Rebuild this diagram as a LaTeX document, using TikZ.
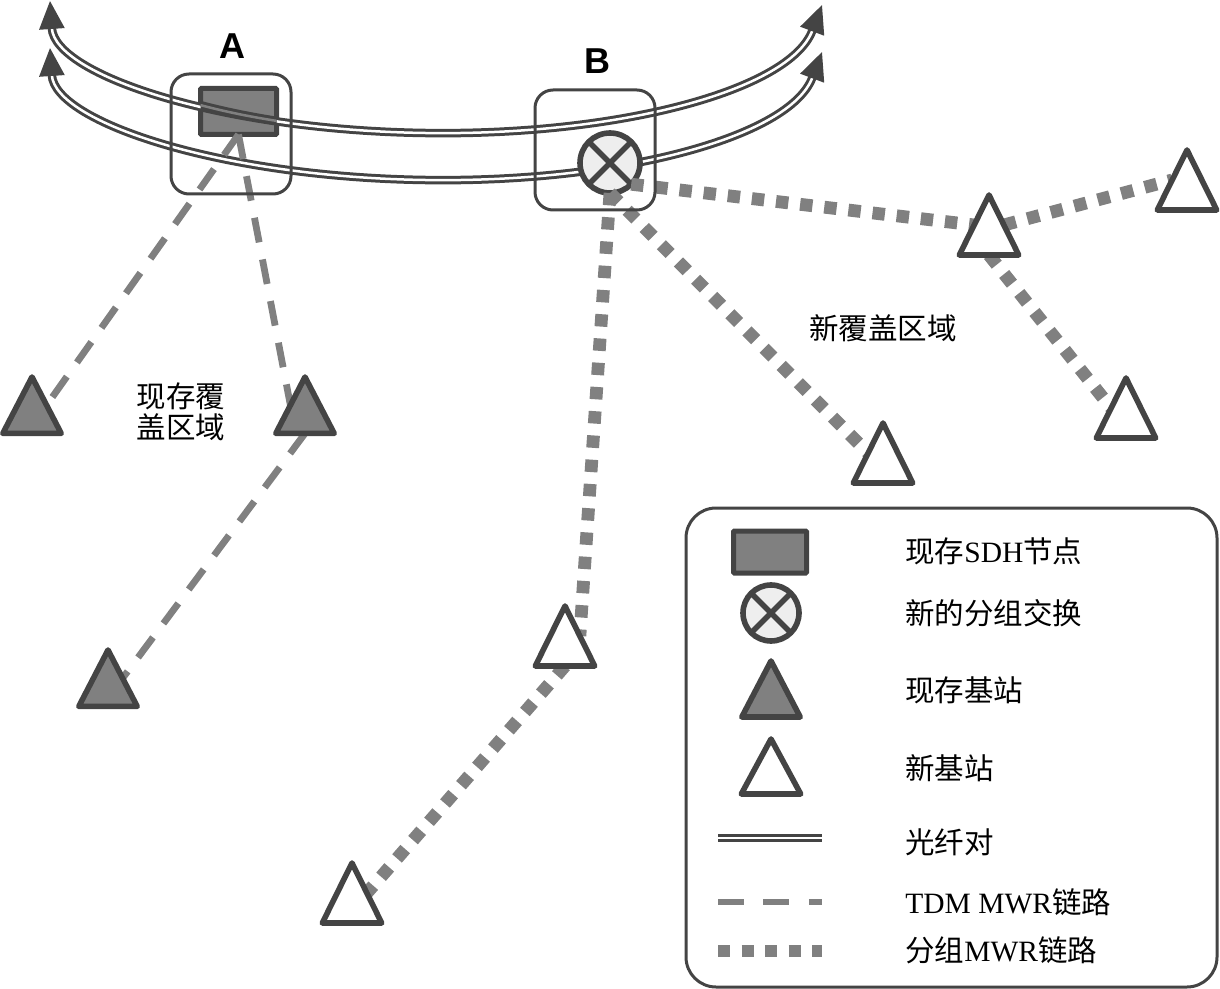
\documentclass[tikz,border=0pt]{standalone}
\usepackage{fontspec}
\setmainfont{Liberation Serif}
\setsansfont{Liberation Sans}
\newfontfamily\cjk{Noto Sans CJK SC}
\usetikzlibrary{arrows.meta,positioning,shapes.geometric}
\definecolor{inkdark}{HTML}{444444}
\definecolor{inkgray}{HTML}{808080}
\definecolor{inklight}{HTML}{EEEEEE}
\pgfdeclarelayer{baselayer}
\pgfdeclarelayer{linklayer}
\pgfsetlayers{baselayer,linklayer,main}
\newcommand{\zh}[1]{{\cjk #1}}
\newcommand{\fibrecurve}{(50,1) .. controls (55,75) and (220,130) .. (425,133)
  .. controls (620,136) and (790,90) .. (822,5)}

\begin{document}
\begin{tikzpicture}[
    x=0.5pt, y=-0.5pt,
    font=\fontsize{14.75pt}{15.5pt}\selectfont,
    >={Triangle[length=14pt,width=12.5pt]},
    % --- node styles ---
    sitebox/.style = {rectangle, draw=inkdark, line width=1.5pt,
                      rounded corners=9pt, minimum width=60pt, minimum height=60pt},
    sdhnode/.style = {rectangle, draw=inkdark, fill=inkgray, line width=2.5pt,
                      rounded corners=0.5pt, inner sep=0pt, outer sep=0pt},
    pktnode/.style = {circle, draw=inkdark, fill=inklight, line width=2.8pt,
                      inner sep=0pt, outer sep=0pt,
                      path picture={
                        \draw[inkdark, line width=2.8pt]
                          (path picture bounding box.north west) -- (path picture bounding box.south east)
                          (path picture bounding box.north east) -- (path picture bounding box.south west);}},
    station/.style = {isosceles triangle, isosceles triangle stretches,
                      shape border rotate=90, draw=inkdark, line width=2.8pt,
                      line join=round, inner sep=0pt, outer sep=0pt, anchor=apex},
    oldsta/.style  = {station, fill=inkgray, minimum width=29.2pt, minimum height=28.2pt},
    newsta/.style  = {station, fill=white, minimum width=29.7pt, minimum height=30pt},
    fibre/.style   = {draw=inkdark, line width=1.5pt, double=white, double distance=1.25pt},
    tdmlink/.style = {draw=inkgray, line width=3.4pt, dash pattern=on 12.5pt off 8.7pt},
    pktlink/.style = {draw=inkgray, line width=6.4pt, dash pattern=on 6.2pt off 5.95pt},
    title/.style   = {font=\sffamily\bfseries\fontsize{18pt}{18pt}\selectfont},
]
\useasboundingbox (0,0) rectangle (1220,989);

%============ SITES ============
\node (boxA) [sitebox] at (231,134) {};
\node (boxB) [sitebox] at (595,150) {};
\node (labelA) [title] at (232,46) {A};
\node (labelB) [title] at (597,61) {B};

%============ NODES AND FIBRE RINGS ============
\begin{pgfonlayer}{baselayer}
  \node (nodeA) [sdhnode, minimum width=38pt, minimum height=23pt] at (238.5,111.5) {};
  \draw[fibre, <->] \fibrecurve;
  \begin{scope}[yshift=-23.5pt]
    \draw[fibre, <->] \fibrecurve;
  \end{scope}
  % gap of the fibre reads grey over the SDH node
  \begin{scope}
    \clip (nodeA.south west) rectangle (nodeA.north east);
    \draw[fibre, double=inkgray] \fibrecurve;
  \end{scope}
  \node (nodeB) [pktnode, minimum size=30pt] at (610,163) {};
\end{pgfonlayer}

%============ BASE STATIONS ============
\node (old1) [oldsta] at (32,377) {};
\node (old2) [oldsta] at (305,377) {};
\node (old3) [oldsta] at (108,650) {};
\node (new1) [newsta] at (565,606) {};
\node (new2) [newsta] at (352,863) {};
\node (new3) [newsta] at (883,423) {};
\node (new4) [newsta] at (989,195) {};
\node (new5) [newsta] at (1187,150) {};
\node (new6) [newsta] at (1126,378) {};

%============ MICROWAVE LINKS ============
\begin{pgfonlayer}{linklayer}
  \draw[tdmlink] (nodeA.south) -- (old1.right side);
  \draw[tdmlink] (nodeA.south) -- (old2.left side);
  \draw[tdmlink] (old2.lower side) -- (old3.right side);
  \draw[pktlink] (nodeB.south) -- (new1.right side);
  \draw[pktlink] (nodeB.south) -- (new3.left side);
  \draw[pktlink] (nodeB.south east) -- (new4.left side);
  \foreach \a/\b in {new1.lower side/new2.right side,
                     new4.lower side/new6.left side,
                     new4.right side/new5.left side}
    \draw[pktlink] (\a) -- (\b);
\end{pgfonlayer}

%============ AREA LABELS ============
\node (areaold) [align=center] at (181,412) {\zh{现存覆}\\\zh{盖区域}};
\node (areanew) at (883,328) {\zh{新覆盖区域}};

%============ LEGEND ============
\node (legend) [rectangle, draw=inkdark, line width=1.5pt, rounded corners=15pt,
                minimum width=265.5pt, minimum height=239.5pt] at (951.5,747.5) {};

\node (key1) [sdhnode, minimum width=36.5pt, minimum height=21pt] at (770,552) {};
\node (key2) [pktnode, minimum size=28pt] at (771,613) {};
\node (key3) [oldsta, minimum height=28pt] at (771,661) {};
\node (key4) [newsta, minimum height=27.5pt] at (771,739) {};

\coordinate (key5a) at (718,838);  \coordinate (key5b) at (822,838);
\coordinate (key6a) at (718,902);  \coordinate (key6b) at (822,902);
\coordinate (key7a) at (718,951);  \coordinate (key7b) at (822,951);
\draw[fibre] (key5a) -- (key5b);
\draw[tdmlink, dash pattern=on 13pt off 9.7pt] (key6a) -- (key6b);
\draw[pktlink, dash pattern=on 6pt off 5.75pt] (key7a) -- (key7b);

\foreach \n/\y/\t in {1/551/\zh{现存}SDH\zh{节点},
                      2/613/\zh{新的分组交换},
                      3/690/\zh{现存基站},
                      4/768/\zh{新基站},
                      5/842/\zh{光纤对},
                      6/902/TDM MWR\zh{链路},
                      7/950/\zh{分组}MWR\zh{链路}}
  \node (text\n) [anchor=west, inner sep=0pt] at (905,\y) {\t};

\end{tikzpicture}
\end{document}
